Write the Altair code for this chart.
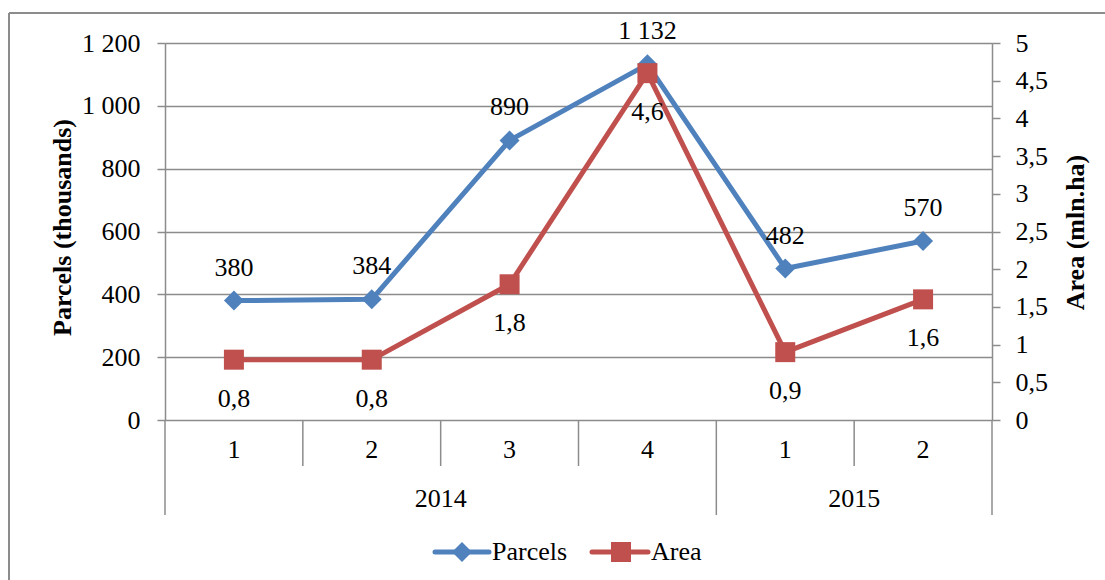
import altair as alt
import pandas as pd

# ---- data ----
quarters = ["1", "2", "3", "4", "1", "2"]
years = ["2014", "2014", "2014", "2014", "2015", "2015"]
parcels = [380, 384, 890, 1132, 482, 570]
area = [0.8, 0.8, 1.8, 4.6, 0.9, 1.6]
series = ["Parcels", "Area"]

BLUE = "#4F81BD"
RED = "#C0504D"
GRAY = "#8C8C8C"
FONT = "'Liberation Serif', 'Times New Roman', Times, serif"
FS = 26

W, H = 827, 377
PAD_L, PAD_T = 165, 43

n = len(quarters)
df = pd.DataFrame({
    "pos": [i + 0.5 for i in range(n)],
    "quarter": quarters,
    "year": years,
    "parcels": parcels,
    "area": area,
    "plab": [f"{v:,}".replace(",", " ") for v in parcels],
    "alab": [str(v).replace(".", ",") for v in area],
})

# separators on the category axis
sep_rows = []
for b in range(n + 1):
    long_ = b == 0 or b == n or years[b - 1] != years[b]
    sep_rows.append({"b": b, "long": long_})
sep_df = pd.DataFrame(sep_rows)

# year group centres
yr_rows = []
start = 0
for i in range(1, n + 1):
    if i == n or years[i] != years[start]:
        yr_rows.append({"year": years[start], "mid": (start + i) / 2})
        start = i
yr_df = pd.DataFrame(yr_rows)

xs = alt.X("pos:Q", scale=alt.Scale(domain=[0, n]), axis=None)
xb = alt.X("b:Q", scale=alt.Scale(domain=[0, n]), axis=None)
xm = alt.X("mid:Q", scale=alt.Scale(domain=[0, n]), axis=None)

left_axis = alt.Axis(
    orient="left", values=[0, 200, 400, 600, 800, 1000, 1200],
    labelExpr="replace(format(datum.value, ','), ',', ' ')",
    grid=True, gridColor=GRAY, gridWidth=1.5,
    domainColor=GRAY, domainWidth=1.5, tickColor=GRAY, tickWidth=1.5, tickSize=8,
    labelPadding=17, labelFontSize=FS, labelFont=FONT, labelColor="black", labelOverlap=False,
    title="Parcels (thousands)", titleFontSize=FS, titleFont=FONT, titleFontWeight="bold",
    titleColor="black", titleAngle=270, titleX=-103, titleY=184,
    titleAlign="center", titleBaseline="middle",
)
right_axis = alt.Axis(
    orient="right", values=[0, 0.5, 1, 1.5, 2, 2.5, 3, 3.5, 4, 4.5, 5],
    labelExpr="replace(format(datum.value, '~g'), '.', ',')",
    grid=False, domainColor=GRAY, domainWidth=1.5, tickColor=GRAY, tickWidth=1.5, tickSize=8,
    labelPadding=15, labelFontSize=FS, labelFont=FONT, labelColor="black", labelOverlap=False,
    title="Area (mln.ha)", titleFontSize=FS, titleFont=FONT, titleFontWeight="bold",
    titleColor="black", titleAngle=270, titleX=83, titleY=189,
    titleAlign="center", titleBaseline="middle",
)

yl = alt.Y("parcels:Q", scale=alt.Scale(domain=[0, 1200]), axis=left_axis)
yr = alt.Y("area:Q", scale=alt.Scale(domain=[0, 5]), axis=right_axis)

base = alt.Chart(df)

left = alt.layer(
    base.mark_line(color=BLUE, strokeWidth=5, strokeJoin="round").encode(x=xs, y=yl),
    base.mark_point(shape="diamond", filled=True, size=400, color=BLUE, opacity=1).encode(x=xs, y=yl),
    base.mark_text(font=FONT, fontSize=FS, color="black", dy=-33, baseline="middle").encode(x=xs, y=yl, text="plab:N"),
)
right = alt.layer(
    base.mark_line(color=RED, strokeWidth=5, strokeJoin="round").encode(x=xs, y=yr),
    base.mark_point(shape="square", filled=True, size=400, color=RED, opacity=1).encode(x=xs, y=yr),
    base.mark_text(font=FONT, fontSize=FS, color="black", dy=39, baseline="middle").encode(x=xs, y=yr, text="alab:N"),
)

seps_long = alt.Chart(sep_df[sep_df["long"]]).mark_rule(color=GRAY, strokeWidth=1.5).encode(
    x=xb, y=alt.value(H), y2=alt.value(472)
)
seps_short = alt.Chart(sep_df[~sep_df["long"]]).mark_rule(color=GRAY, strokeWidth=1.5).encode(
    x=xb, y=alt.value(H), y2=alt.value(423)
)

qlabels = base.mark_text(font=FONT, fontSize=FS, color="black", baseline="middle").encode(
    x=xs, y=alt.value(407), text="quarter:N"
)
ylabels = alt.Chart(yr_df).mark_text(font=FONT, fontSize=FS, color="black", baseline="middle").encode(
    x=xm, y=alt.value(456), text="year:N"
)

one = pd.DataFrame({"a": [0]})
LY = 552 - PAD_T
legend = alt.layer(
    alt.Chart(one).mark_rule(color=BLUE, strokeWidth=5, strokeCap="round").encode(
        x=alt.value(435 - PAD_L), x2=alt.value(489 - PAD_L), y=alt.value(LY)),
    alt.Chart(one).mark_point(shape="diamond", filled=True, size=400, color=BLUE, opacity=1).encode(
        x=alt.value(462 - PAD_L), y=alt.value(LY)),
    alt.Chart(pd.DataFrame({"t": [series[0]]})).mark_text(font=FONT, fontSize=FS, color="black", align="left", baseline="middle").encode(
        x=alt.value(492 - PAD_L), y=alt.value(LY), text="t:N"),
    alt.Chart(one).mark_rule(color=RED, strokeWidth=5, strokeCap="round").encode(
        x=alt.value(592 - PAD_L), x2=alt.value(648 - PAD_L), y=alt.value(LY)),
    alt.Chart(one).mark_point(shape="square", filled=True, size=400, color=RED, opacity=1).encode(
        x=alt.value(621 - PAD_L), y=alt.value(LY)),
    alt.Chart(pd.DataFrame({"t": [series[1]]})).mark_text(font=FONT, fontSize=FS, color="black", align="left", baseline="middle").encode(
        x=alt.value(651 - PAD_L), y=alt.value(LY), text="t:N"),
)

frame = alt.layer(
    alt.Chart(one).mark_rule(color=GRAY, strokeWidth=2).encode(
        x=alt.value(9 - PAD_L), x2=alt.value(1105 - PAD_L), y=alt.value(13 - PAD_T)),
    alt.Chart(one).mark_rule(color=GRAY, strokeWidth=2).encode(
        x=alt.value(9 - PAD_L), y=alt.value(13 - PAD_T), y2=alt.value(580 - PAD_T)),
)

chart = alt.layer(
    frame, seps_long, seps_short, qlabels, ylabels, legend, left, right
).resolve_scale(y="independent").properties(
    width=W, height=H,
    autosize=alt.AutoSizeParams(type="none"),
    padding={"left": PAD_L, "top": PAD_T, "right": 1105 - PAD_L - W, "bottom": 580 - PAD_T - H},
).configure_view(stroke=None).configure(background="white")

chart.save("out.html", embed_options={"renderer": "svg", "actions": False})
